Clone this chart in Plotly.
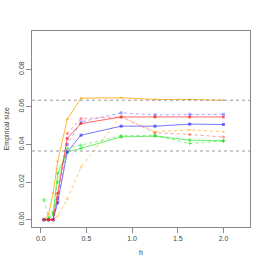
import plotly.graph_objects as go

h = [0.035, 0.085, 0.135, 0.185, 0.29, 0.44, 0.88, 1.25, 1.63, 2.0]

orange_solid = [0.0, 0.0027, 0.014, 0.031, 0.0534, 0.0646, 0.0648, 0.0639, 0.0639, 0.0635]
orange_dash = [None, 0.0, 0.0, 0.0018, 0.011, 0.028, 0.055, 0.0467, 0.0477, 0.0467]
red_solid = [0.0, 0.0, 0.0, 0.014, 0.0432, 0.0511, 0.0546, 0.0546, 0.0546, 0.0546]
red_dash = [0.0, 0.0, 0.0, 0.012, 0.0458, 0.0538, 0.0546, 0.0462, 0.0453, 0.0439]
blue_solid = [0.0, 0.0, 0.0, 0.009, 0.036, 0.0449, 0.0497, 0.0497, 0.0508, 0.0506]
blue_dash = [0.0, 0.0, 0.0, 0.011, 0.040, 0.052, 0.0568, 0.0557, 0.0560, 0.0560]
green_solid = [0.0, 0.0, 0.003, 0.0246, 0.036, 0.0379, 0.044, 0.0444, 0.0423, 0.0419]
green_dash = [0.0105, 0.001, 0.004, 0.020, 0.038, 0.0396, 0.0446, 0.0449, 0.0405, 0.0419]

ref_levels = [0.0365, 0.0635]

series = [
    ("green solid", green_solid, "rgba(0,230,0,0.6)", "solid", "cross"),
    ("green dash", green_dash, "rgba(0,230,0,0.5)", "dot", "cross"),
    ("orange dash", orange_dash, "rgba(255,165,0,0.6)", "dot", "triangle-down"),
    ("orange solid", orange_solid, "rgba(255,165,0,0.8)", "solid", "triangle-up"),
    ("blue solid", blue_solid, "rgba(30,30,255,0.6)", "solid", "square"),
    ("blue dash", blue_dash, "rgba(60,60,255,0.45)", "dot", "square"),
    ("red solid", red_solid, "rgba(255,0,0,0.6)", "solid", "circle"),
    ("red dash", red_dash, "rgba(255,60,60,0.5)", "dot", "circle"),
]

fig = go.Figure()
for name, ys, col, dash, sym in series:
    fig.add_trace(go.Scatter(
        x=h, y=ys, mode="lines+markers", name=name,
        line=dict(color=col, width=1, dash=dash),
        marker=dict(color=col, size=3, symbol=sym),
        connectgaps=False,
    ))

for lv in ref_levels:
    fig.add_hline(y=lv, line=dict(color="#999999", width=1, dash="dot"))

fig.update_layout(
    width=266, height=266,
    margin=dict(l=32, r=16, t=31, b=39),
    paper_bgcolor="white", plot_bgcolor="white",
    showlegend=False,
    font=dict(family="Liberation Sans", size=7, color="#444444"),
    annotations=[
        dict(text="h", xref="paper", yref="paper", x=0.5, y=-0.132,
             showarrow=False, xanchor="center", yanchor="middle",
             font=dict(size=7, color="#333333")),
        dict(text="Empirical size", xref="paper", yref="paper", x=-0.113, y=0.5,
             showarrow=False, xanchor="center", yanchor="middle", textangle=-90,
             font=dict(size=7, color="#333333")),
    ],
)
fig.update_xaxes(
    range=[-0.096, 2.29], tickvals=[0, 0.5, 1.0, 1.5, 2.0], tickformat=".1f",
    showgrid=False, zeroline=False, showline=True, linecolor="#888888", linewidth=1,
    mirror=True, ticks="outside", ticklen=5, tickcolor="#888888", automargin=False,
    ticklabelstandoff=0,
)
fig.update_yaxes(
    range=[-0.0039, 0.1003], tickvals=[0, 0.02, 0.04, 0.06, 0.08], tickformat=".2f",
    tickangle=-90, automargin=False, ticklabelstandoff=-1,
    showgrid=False, zeroline=False, showline=True, linecolor="#888888", linewidth=1,
    mirror=True, ticks="outside", ticklen=5, tickcolor="#888888",
)

fig.write_html("out.html", config={"displayModeBar": False},
               post_script="document.body.style.margin='0';document.body.style.padding='0';")
